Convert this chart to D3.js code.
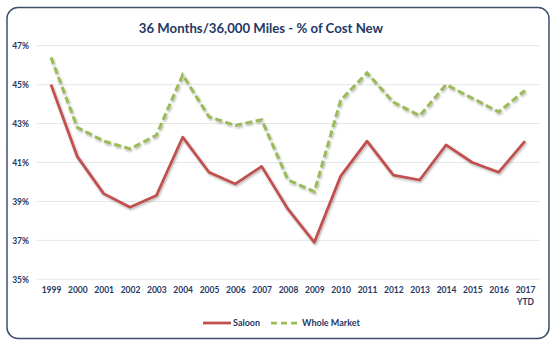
<!DOCTYPE html>
<html><head><meta charset="utf-8">
<script src="https://cdn.jsdelivr.net/npm/d3@7"></script>
<style>
html,body{margin:0;padding:0;background:#fff;}
svg{display:block;}
text{font-family:Lato,"Open Sans",sans-serif;}
</style></head>
<body>
<svg id="c" width="557" height="346"></svg>
<script>
const years = ["1999","2000","2001","2002","2003","2004","2005","2006","2007","2008","2009","2010","2011","2012","2013","2014","2015","2016","2017"];
const saloon = [45.0,41.3,39.4,38.7,39.3,42.3,40.5,39.9,40.8,38.6,36.9,40.3,42.1,40.35,40.1,41.9,41.0,40.5,42.1];
const wholeMarket = [46.4,42.8,42.1,41.7,42.4,45.5,43.35,42.9,43.2,40.1,39.5,44.2,45.6,44.1,43.4,45.0,44.3,43.6,44.7];
const yTicks = [35,37,39,41,43,45,47];
const title = "36 Months/36,000 Miles - % of Cost New";
const seriesNames = ["Saloon","Whole Market"];

const svg = d3.select("#c");
const navy = "#1f3864";

const defs = svg.append("defs");
const f = defs.append("filter").attr("id","sh").attr("x","-10%").attr("y","-10%").attr("width","120%").attr("height","130%");
f.append("feDropShadow").attr("dx",1).attr("dy",1.5).attr("stdDeviation",1).attr("flood-color","#000").attr("flood-opacity",0.3);

svg.append("rect").attr("x",7).attr("y",7.5).attr("width",542).attr("height",331).attr("rx",11)
  .attr("fill","#fff").attr("stroke","#3c506e").attr("stroke-width",1.5);

svg.append("text").attr("x",261).attr("y",33).attr("text-anchor","middle")
  .attr("font-size",13.2).attr("font-weight","bold").attr("fill",navy).text(title);

const x = d3.scalePoint().domain(years).range([51,525]);
const y = d3.scaleLinear().domain([35,47]).range([279.3,45.7]);

const grid = svg.append("g");
yTicks.forEach(t=>{
  grid.append("line").attr("x1",37).attr("x2",540).attr("y1",y(t)).attr("y2",y(t))
    .attr("stroke","#e6e6e6").attr("stroke-width",1);
});

const yAxis = d3.axisLeft(y).tickValues(yTicks).tickSize(0).tickPadding(0).tickFormat(d=>d+"%");
const ya = svg.append("g").attr("transform","translate(29,0)").call(yAxis);
ya.select(".domain").remove();
ya.selectAll("text").attr("font-size",8.5).attr("font-weight","bold").attr("fill",navy).attr("font-family","Lato,sans-serif");

const xAxis = d3.axisBottom(x).tickSize(0).tickPadding(0).tickFormat(d=>d);
const xa = svg.append("g").attr("transform","translate(0,287)").call(xAxis);
xa.select(".domain").remove();
xa.selectAll("text").attr("font-size",8.5).attr("font-weight","bold").attr("fill",navy).attr("font-family","Lato,sans-serif");
xa.selectAll(".tick").filter(d=>d==="2017").append("text").attr("y",12).attr("dy","0.71em")
  .attr("text-anchor","middle").attr("font-size",8.5).attr("font-weight","bold").attr("fill",navy).text("YTD");

const line = d3.line().x((d,i)=>x(years[i])).y(d=>y(d));

svg.append("path").datum(wholeMarket).attr("d",line).attr("fill","none")
  .attr("stroke","#9bbb59").attr("stroke-width",3).attr("stroke-dasharray","7,3.5").attr("filter","url(#sh)");
svg.append("path").datum(saloon).attr("d",line).attr("fill","none")
  .attr("stroke","#c0504d").attr("stroke-width",2.75).attr("stroke-linejoin","round").attr("filter","url(#sh)");

// legend
const lg = svg.append("g");
lg.append("line").attr("x1",203).attr("x2",231).attr("y1",323).attr("y2",323).attr("stroke","#c0504d").attr("stroke-width",2.75);
lg.append("text").attr("x",233).attr("y",326).attr("font-size",9).attr("font-weight","bold").attr("fill",navy).text(seriesNames[0]);
lg.append("line").attr("x1",271).attr("x2",300).attr("y1",323).attr("y2",323).attr("stroke","#9bbb59").attr("stroke-width",2.75).attr("stroke-dasharray","6,4");
lg.append("text").attr("x",302).attr("y",326).attr("font-size",9).attr("font-weight","bold").attr("fill",navy).text(seriesNames[1]);
</script>
</body></html>
